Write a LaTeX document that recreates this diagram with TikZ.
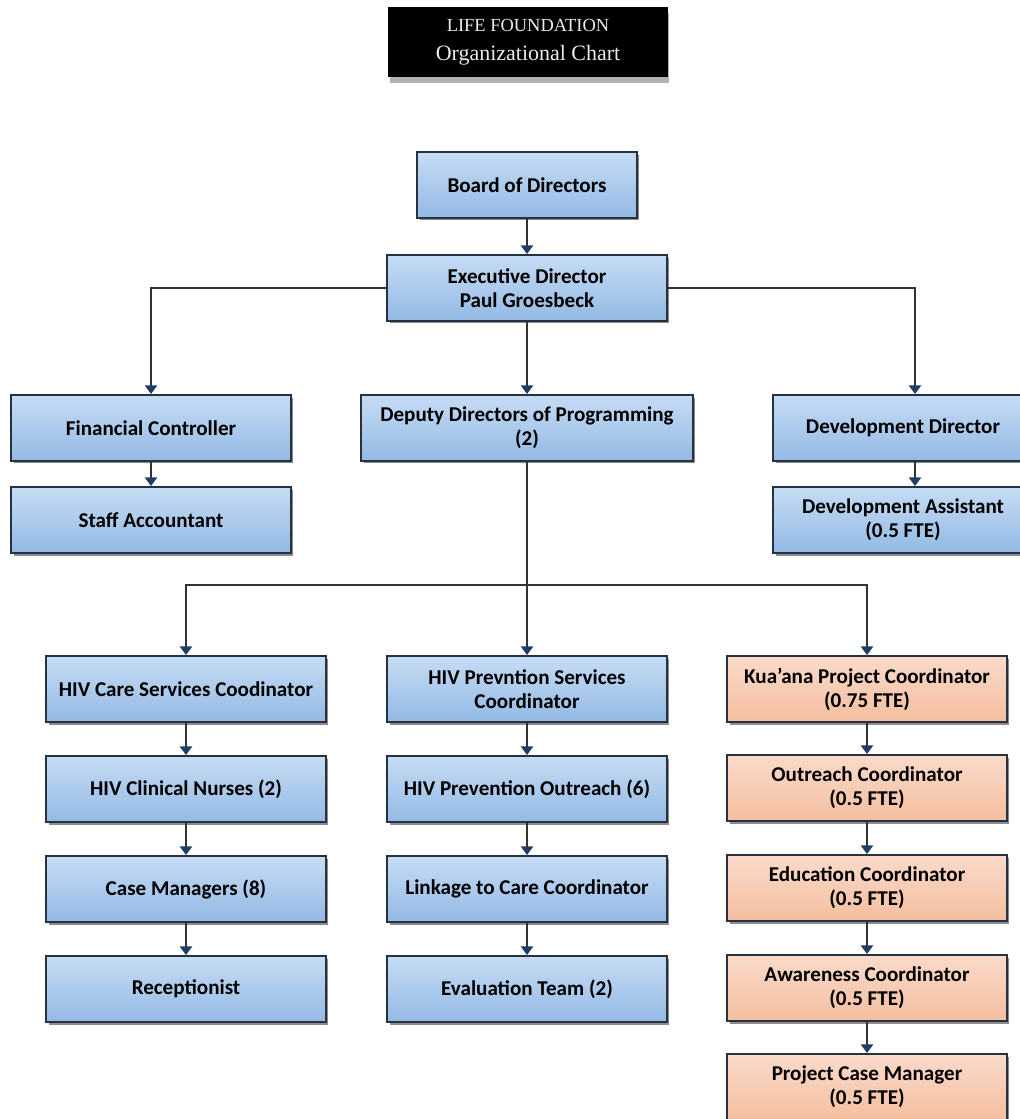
\documentclass[tikz,border=0pt]{standalone}
\usepackage{fontspec}
\setmainfont{Carlito}
\newfontfamily\titlefont{Liberation Serif}
\usetikzlibrary{arrows.meta,shadows}
\definecolor{boxline}{HTML}{26323F}
\definecolor{bluetop}{HTML}{C6DCF4}
\definecolor{bluebot}{HTML}{93B9E4}
\definecolor{peachtop}{HTML}{FADACA}
\definecolor{peachbot}{HTML}{F4BE9F}
\definecolor{tipblue}{HTML}{1F3D66}
\tikzset{
  post/.style={draw=boxline, line width=1.1pt, top color=bluetop, bottom color=bluebot,
    minimum width=5.6cm, minimum height=1.32cm, align=center, inner sep=2pt,
    font=\bfseries\fontsize{12}{13.6}\selectfont,
    drop shadow={shadow xshift=0.05cm, shadow yshift=-0.05cm, fill=black!75, opacity=0.6}},
  kuapost/.style={post, top color=peachtop, bottom color=peachbot},
  link/.style={draw=black!80, line width=1.1pt, -{Triangle[width=7pt,length=5pt,color=tipblue]}},
  trunk/.style={draw=black!80, line width=1.1pt},
}
\begin{document}
\begin{tikzpicture}[x=0.02cm, y=-0.02cm]
\useasboundingbox (0,0) rectangle (1020,1119);
\clip (0,0) rectangle (1020,1119);
% title
\node[fill=black, text=white!92!black, minimum width=5.6cm, minimum height=1.42cm, align=center,
  font=\titlefont,
  drop shadow={shadow xshift=0.03cm, shadow yshift=-0.12cm, fill=black!60, opacity=0.5}] (title) at (528,42)
  {\fontsize{10.5}{13}\selectfont LIFE FOUNDATION\\[4.5pt] \fontsize{12.5}{15}\selectfont Organizational Chart};
% top levels
\node[post, minimum width=4.4cm] (board) at (527,185) {Board of Directors};
\node[post] (exec) at (527,288) {Executive Director\\Paul Groesbeck};
\node[post] (fin) at (151,428) {Financial Controller};
\node[post] (staff) at (151,520) {Staff Accountant};
\node[post, minimum width=6.64cm] (deputy) at (527,428) {Deputy Directors of Programming\\(2)};
\node[post, minimum width=5.2cm] (devdir) at (903,428) {Development Director};
\node[post, minimum width=5.2cm] (devasst) at (903,520) {Development Assistant\\(0.5 FTE)};
\coordinate (devx) at (915,0);
\coordinate (split) at (527,585);
% programme columns
\node[post] (care) at (186,689) {HIV Care Services Coodinator};
\node[post] (nurses) at (186,789) {HIV Clinical Nurses (2)};
\node[post] (casemgr) at (186,889) {Case Managers (8)};
\node[post] (recept) at (186,989) {Receptionist};
\node[post] (prev) at (527,689) {HIV Prevntion Services\\Coordinator};
\node[post] (outreach) at (527,789) {HIV Prevention Outreach (6)};
\node[post] (linkage) at (527,889) {Linkage to Care Coordinator};
\node[post] (evalteam) at (527,989) {Evaluation Team (2)};
\node[kuapost] (kua) at (867,689) {Kua'ana Project Coordinator\\(0.75 FTE)};
\node[kuapost] (outcoord) at (867,788) {Outreach Coordinator\\(0.5 FTE)};
\node[kuapost] (educ) at (867,888) {Education Coordinator\\(0.5 FTE)};
\node[kuapost] (aware) at (867,988) {Awareness Coordinator\\(0.5 FTE)};
\node[kuapost] (casemgrp) at (867,1087) {Project Case Manager\\(0.5 FTE)};
% connectors
\draw[link] (board) -- (exec);
\draw[link] (exec.west) -| (fin.north);
\draw[link] (exec) -- (deputy);
\draw[link] (exec.east) -| (devx |- devdir.north);
\draw[link] (fin) -- (staff);
\draw[link] (devx |- devdir.south) -- (devx |- devasst.north);
\draw[trunk] (deputy.south) -- (split);
\draw[link] (split) -| (care.north);
\draw[link] (split) -- (prev.north);
\draw[link] (split) -| (kua.north);
\foreach \a/\b in {care/nurses, nurses/casemgr, casemgr/recept,
  prev/outreach, outreach/linkage, linkage/evalteam,
  kua/outcoord, outcoord/educ, educ/aware, aware/casemgrp}
  \draw[link] (\a) -- (\b);
\end{tikzpicture}
\end{document}
